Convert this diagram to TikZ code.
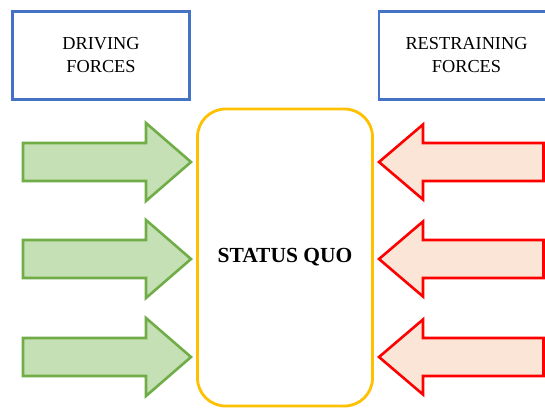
\documentclass[tikz,border=0pt]{standalone}
\usepackage{fontspec}
\setmainfont{Liberation Serif}
\definecolor{boxblue}{HTML}{4472C4}
\definecolor{sqyellow}{HTML}{FFC000}
\definecolor{drvline}{HTML}{70AD47}
\definecolor{drvfill}{HTML}{C5E0B4}
\definecolor{rstline}{HTML}{FF0000}
\definecolor{rstfill}{HTML}{FBE5D6}
\tikzset{
  labelbox/.style={draw=boxblue, line width=2.6pt, minimum width=177pt, minimum height=88pt,
    align=center, inner sep=0pt, font=\fontsize{18.3}{23}\selectfont},
  sqbox/.style={draw=sqyellow, line width=2.8pt, rounded corners=28pt, minimum width=175pt,
    minimum height=297pt, font=\fontsize{21.5}{24}\selectfont\bfseries},
  drvarrow/.style={draw=drvline, fill=drvfill, line width=2.6pt, line join=miter},
  rstarrow/.style={draw=rstline, fill=rstfill, line width=2.6pt, line join=miter}
}
\begin{document}
\begin{tikzpicture}[x=1pt,y=-1pt]
\useasboundingbox (0,0) rectangle (545,408);
\node[labelbox] (driving) at (101,55.5) {DRIVING\\FORCES};
\node[labelbox, minimum width=175pt] (restraining) at (466.5,55.5) {RESTRAINING\\FORCES};
\node[sqbox] (sq) at (285,257.5) {STATUS QUO};
\foreach \c in {162,259,357}{
  \draw[drvarrow] (23,\c-19) -- (146,\c-19) -- (146,\c-39) -- (191,\c) -- (146,\c+39) -- (146,\c+19) -- (23,\c+19) -- cycle;
  \draw[rstarrow] (543.5,\c-19) -- (423,\c-19) -- (423,\c-37.5) -- (379,\c) -- (423,\c+37.5) -- (423,\c+19) -- (543.5,\c+19) -- cycle;
}
\end{tikzpicture}
\end{document}
